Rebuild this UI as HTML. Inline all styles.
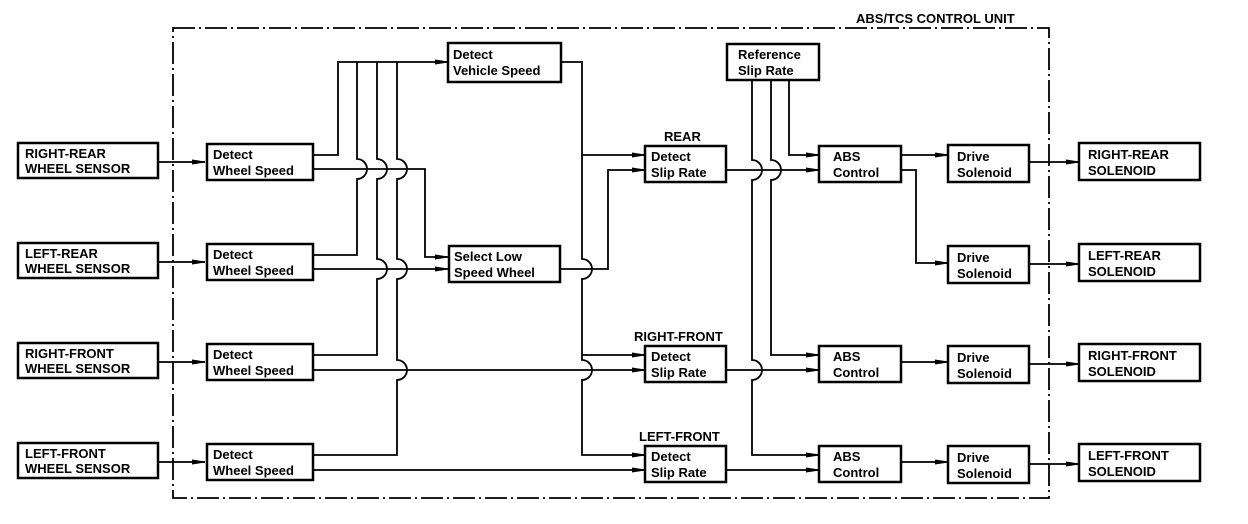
<!DOCTYPE html>
<html><head><meta charset="utf-8"><style>
html,body{margin:0;padding:0;background:#fff;}
svg{display:block;}
text{font-family:"Liberation Sans",Arial,sans-serif;font-weight:bold;font-size:13px;fill:#000;}
.b{fill:#fff;stroke:#000;stroke-width:2.5;}
.l{fill:none;stroke:#000;stroke-width:1.8;}
</style></head><body>
<svg width="1248" height="524" viewBox="0 0 1248 524" xmlns="http://www.w3.org/2000/svg">
<defs><marker id="a" markerWidth="14" markerHeight="8" refX="13" refY="4" orient="auto" markerUnits="userSpaceOnUse"><path d="M0,2 L13,4 L0,6 Z" fill="#000" stroke="#000" stroke-width="1"/></marker></defs>
<!-- dashed unit box -->
<path d="M173,28 H1049 V498 H173 Z" fill="none" stroke="#000" stroke-width="1.8" stroke-dasharray="22,4,2,4"/>
<rect x="850" y="8" width="196" height="18" fill="#fff"/>
<text x="856" y="23">ABS/TCS CONTROL UNIT</text>

<!-- sensors -->
<g>
<rect class="b" x="18" y="143" width="140" height="35"/><text x="25" y="158">RIGHT-REAR</text><text x="25" y="173">WHEEL SENSOR</text>
<rect class="b" x="18" y="243" width="140" height="35"/><text x="25" y="258">LEFT-REAR</text><text x="25" y="273">WHEEL SENSOR</text>
<rect class="b" x="18" y="343" width="140" height="35"/><text x="25" y="358">RIGHT-FRONT</text><text x="25" y="373">WHEEL SENSOR</text>
<rect class="b" x="18" y="443" width="140" height="35"/><text x="25" y="458">LEFT-FRONT</text><text x="25" y="473">WHEEL SENSOR</text>
</g>
<g class="l">
<path d="M158,162 H205" marker-end="url(#a)"/>
<path d="M158,262 H205" marker-end="url(#a)"/>
<path d="M158,362 H205" marker-end="url(#a)"/>
<path d="M158,462 H205" marker-end="url(#a)"/>
</g>
<!-- wheel speed boxes -->
<rect class="b" x="207" y="144" width="106" height="36"/><text x="213" y="159">Detect</text><text x="213" y="175">Wheel Speed</text>
<rect class="b" x="207" y="244" width="106" height="36"/><text x="213" y="259">Detect</text><text x="213" y="275">Wheel Speed</text>
<rect class="b" x="207" y="344" width="106" height="36"/><text x="213" y="359">Detect</text><text x="213" y="375">Wheel Speed</text>
<rect class="b" x="207" y="444" width="106" height="36"/><text x="213" y="459">Detect</text><text x="213" y="475">Wheel Speed</text>

<g class="l">
<!-- top outputs to bus -->
<path d="M313,155 H338 V62 H448" marker-end="url(#a)"/>
<path d="M313,255 H357 V179 A10,10 0 0 0 357,159 V62"/>
<path d="M313,355 H377 V279 A10,10 0 0 0 377,259 V179 A10,10 0 0 0 377,159 V62"/>
<path d="M313,455 H397 V380 A10,10 0 0 0 397,360 V279 A10,10 0 0 0 397,259 V179 A10,10 0 0 0 397,159 V62"/>
<!-- bottom outputs -->
<path d="M313,169 H425 V257 H448" marker-end="url(#a)"/>
<path d="M313,269 H448" marker-end="url(#a)"/>
<path d="M313,370 H645" marker-end="url(#a)"/>
<path d="M313,470 H645" marker-end="url(#a)"/>
<!-- vehicle speed bus -->
<path d="M561,62 H582 V259 A10,10 0 0 1 582,279 V360 A10,10 0 0 1 582,380 V455 H645" marker-end="url(#a)"/>
<path d="M582,155 H645" marker-end="url(#a)"/>
<path d="M582,355 H645" marker-end="url(#a)"/>
<!-- select low output -->
<path d="M560,269 H608 V170 H645" marker-end="url(#a)"/>
<!-- reference slip -->
<path d="M789,80 V155 H819" marker-end="url(#a)"/>
<path d="M771,80 V160 A10,10 0 0 1 771,180 V355 H819" marker-end="url(#a)"/>
<path d="M752,80 V160 A10,10 0 0 1 752,180 V360 A10,10 0 0 1 752,380 V455 H819" marker-end="url(#a)"/>
<!-- slip outputs -->
<path d="M726,170 H819" marker-end="url(#a)"/>
<path d="M726,370 H819" marker-end="url(#a)"/>
<path d="M726,470 H819" marker-end="url(#a)"/>
<!-- ABS outputs -->
<path d="M901,155 H948" marker-end="url(#a)"/>
<path d="M901,170 H916 V263 H948" marker-end="url(#a)"/>
<path d="M901,362 H948" marker-end="url(#a)"/>
<path d="M901,462 H948" marker-end="url(#a)"/>
<!-- drive outputs -->
<path d="M1029,162 H1079" marker-end="url(#a)"/>
<path d="M1029,264 H1079" marker-end="url(#a)"/>
<path d="M1029,364 H1079" marker-end="url(#a)"/>
<path d="M1029,464 H1079" marker-end="url(#a)"/>
</g>

<!-- middle boxes -->
<rect class="b" x="448" y="43" width="113" height="39"/><text x="453" y="59">Detect</text><text x="453" y="75">Vehicle Speed</text>
<rect class="b" x="449" y="246" width="111" height="36"/><text x="454" y="261">Select Low</text><text x="454" y="277">Speed Wheel</text>

<text x="664" y="141">REAR</text>
<rect class="b" x="645" y="146" width="81" height="36"/><text x="651" y="161">Detect</text><text x="651" y="177">Slip Rate</text>
<text x="634" y="341">RIGHT-FRONT</text>
<rect class="b" x="645" y="346" width="81" height="36"/><text x="651" y="361">Detect</text><text x="651" y="377">Slip Rate</text>
<text x="639" y="441">LEFT-FRONT</text>
<rect class="b" x="645" y="446" width="81" height="36"/><text x="651" y="461">Detect</text><text x="651" y="477">Slip Rate</text>

<rect class="b" x="727" y="44" width="92" height="36"/><text x="738" y="59">Reference</text><text x="738" y="75">Slip Rate</text>

<rect class="b" x="819" y="146" width="82" height="36"/><text x="833" y="161">ABS</text><text x="833" y="177">Control</text>
<rect class="b" x="819" y="346" width="82" height="36"/><text x="833" y="361">ABS</text><text x="833" y="377">Control</text>
<rect class="b" x="819" y="446" width="82" height="36"/><text x="833" y="461">ABS</text><text x="833" y="477">Control</text>

<rect class="b" x="948" y="145" width="81" height="37"/><text x="957" y="161">Drive</text><text x="957" y="177">Solenoid</text>
<rect class="b" x="948" y="246" width="81" height="37"/><text x="957" y="262">Drive</text><text x="957" y="278">Solenoid</text>
<rect class="b" x="948" y="346" width="81" height="37"/><text x="957" y="362">Drive</text><text x="957" y="378">Solenoid</text>
<rect class="b" x="948" y="446" width="81" height="37"/><text x="957" y="462">Drive</text><text x="957" y="478">Solenoid</text>

<rect class="b" x="1079" y="143" width="121" height="37"/><text x="1088" y="159">RIGHT-REAR</text><text x="1088" y="175">SOLENOID</text>
<rect class="b" x="1079" y="244" width="121" height="37"/><text x="1088" y="260">LEFT-REAR</text><text x="1088" y="276">SOLENOID</text>
<rect class="b" x="1079" y="344" width="121" height="37"/><text x="1088" y="360">RIGHT-FRONT</text><text x="1088" y="376">SOLENOID</text>
<rect class="b" x="1079" y="444" width="121" height="37"/><text x="1088" y="460">LEFT-FRONT</text><text x="1088" y="476">SOLENOID</text>
</svg>
</body></html>
